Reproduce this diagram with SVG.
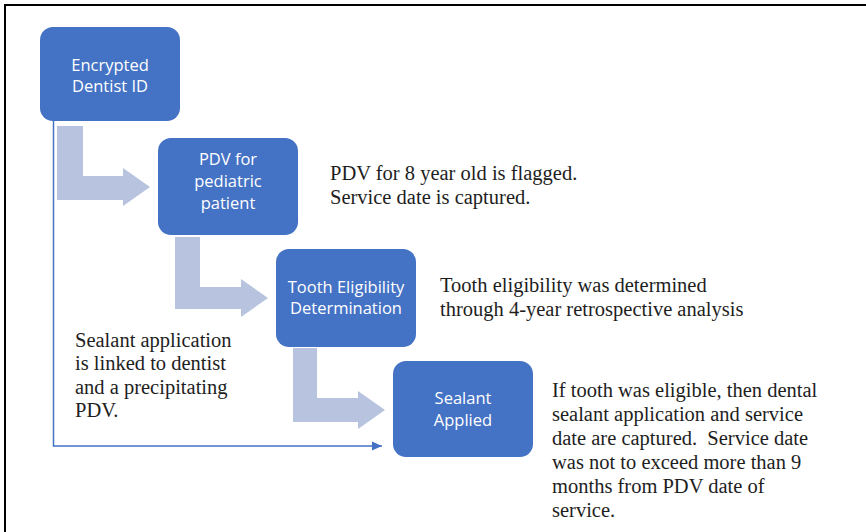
<svg xmlns="http://www.w3.org/2000/svg" width="866" height="532" viewBox="0 0 866 532">
<defs>
<style>
.box{fill:#4472C4;}
.bt{font-family:"Open Sans","Liberation Sans",sans-serif;font-size:16.5px;fill:#ffffff;text-anchor:middle;}
.note{font-family:"Liberation Serif","Times New Roman",serif;font-size:20.5px;fill:#1e1e1e;}
.bent{fill:#B7C3DF;}
.link{fill:none;stroke:#4472C4;stroke-width:1.5;}
</style>
<marker id="ah" viewBox="0 0 10 10" refX="10" refY="5" markerWidth="10" markerHeight="10" markerUnits="userSpaceOnUse" orient="auto">
<path d="M0,0.5 L10,5 L0,9.5 Z" fill="#4472C4"/>
</marker>
</defs>
<rect x="0" y="0" width="866" height="532" fill="#ffffff"/>
<path d="M5,532 V5 H866" fill="none" stroke="#000000" stroke-width="2"/>

<g id="connectors">
<polygon class="bent" points="57,126 83,126 83,176 123,176 123,168 150,187 123,206 123,200 57,200"/>
<polygon class="bent" points="175,237 200,237 200,287 241,287 241,279 268,298 241,317 241,309 175,309"/>
<polygon class="bent" points="293,348 317,348 317,398 358,398 358,391 385,410 358,429 358,422 293,422"/>
<path class="link" d="M53.5,121 V446 H382" marker-end="url(#ah)"/>
</g>

<g id="node-dentist">
<rect class="box" x="40" y="27" width="140" height="94" rx="13"/>
<text class="bt" x="110" y="71">Encrypted</text>
<text class="bt" x="110" y="92">Dentist ID</text>
</g>

<g id="node-pdv">
<rect class="box" x="158" y="138" width="140" height="97" rx="13"/>
<text class="bt" x="228" y="165">PDV for</text>
<text class="bt" x="228" y="187">pediatric</text>
<text class="bt" x="228" y="209">patient</text>
</g>

<g id="node-tooth">
<rect class="box" x="276" y="249" width="140" height="98" rx="13"/>
<text class="bt" x="346" y="293">Tooth Eligibility</text>
<text class="bt" x="346" y="314">Determination</text>
</g>

<g id="node-sealant">
<rect class="box" x="393" y="361" width="140" height="96" rx="13"/>
<text class="bt" x="463" y="404">Sealant</text>
<text class="bt" x="463" y="426">Applied</text>
</g>

<g id="note-pdv">
<text class="note" x="330" y="180">PDV for 8 year old is flagged.</text>
<text class="note" x="330" y="204">Service date is captured.</text>
</g>

<g id="note-tooth">
<text class="note" x="440" y="292">Tooth eligibility was determined</text>
<text class="note" x="440" y="316">through 4-year retrospective analysis</text>
</g>

<g id="note-link">
<text class="note" x="75" y="347">Sealant application</text>
<text class="note" x="75" y="370">is linked to dentist</text>
<text class="note" x="75" y="394">and a precipitating</text>
<text class="note" x="75" y="417">PDV.</text>
</g>

<g id="note-sealant">
<text class="note" x="552" y="397">If tooth was eligible, then dental</text>
<text class="note" x="552" y="421">sealant application and service</text>
<text class="note" x="552" y="445">date are captured.&#160; Service date</text>
<text class="note" x="552" y="469">was not to exceed more than 9</text>
<text class="note" x="552" y="493">months from PDV date of</text>
<text class="note" x="552" y="517">service.</text>
</g>
</svg>
